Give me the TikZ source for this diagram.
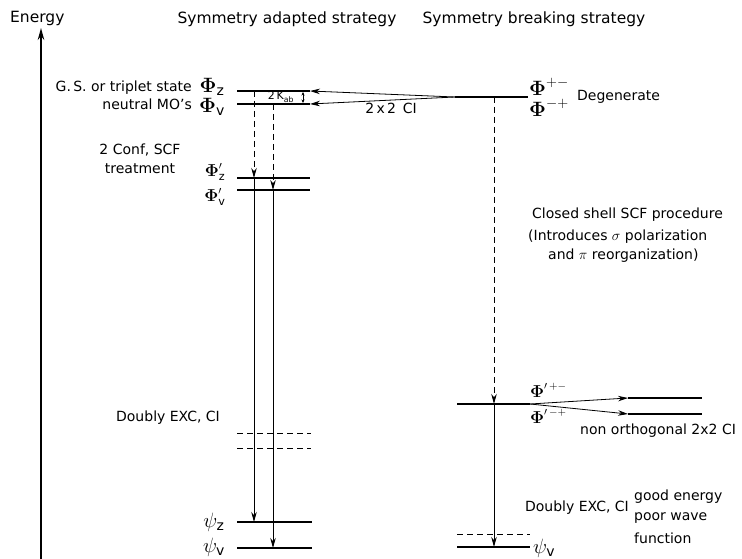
\documentclass[tikz,border=0pt]{standalone}
\usepackage{amsmath}
\usepackage{fontspec}
\setmainfont{DejaVu Sans}
\usetikzlibrary{arrows.meta}
\begin{document}
\begin{tikzpicture}[x=1pt,y=-1pt,
  lvl/.style={line width=1.7pt},
  dlvl/.style={line width=1pt,dash pattern=on 6pt off 4pt},
  arr/.style={line width=0.8pt,-{Stealth[length=10pt,width=5.5pt]}},
  darr/.style={arr,dash pattern=on 6pt off 4pt},
  axis/.style={line width=1.5pt,-{Stealth[length=12pt,width=6.5pt]}},
  txt/.style={inner sep=0pt,font=\fontsize{14}{17}\selectfont},
  head/.style={inner sep=0pt,font=\fontsize{15.5}{18}\selectfont},
  sym/.style={inner sep=0pt,font=\fontsize{20}{22}\selectfont},
  symp/.style={inner sep=0pt,font=\fontsize{16}{18}\selectfont},
  small/.style={inner sep=0pt,font=\fontsize{11}{13}\selectfont}]
\useasboundingbox (0,0) rectangle (742,559);

% energy axis
\coordinate (axB) at (41,559);
\coordinate (axT) at (41,28);
\draw[axis] (axB) -- (axT);
\node[head,anchor=west] (energy) at (10,18) {Energy};
\node[head] (hA) at (287,19) {Symmetry adapted strategy};
\node[head] (hB) at (534,19) {Symmetry breaking strategy};

% left levels
\coordinate (zL) at (237,91);   \coordinate (zR) at (310,91);
\coordinate (vL) at (237,104);  \coordinate (vR) at (310,104);
\coordinate (zpL) at (237,178); \coordinate (zpR) at (310,178);
\coordinate (vpL) at (237,190); \coordinate (vpR) at (310,190);
\coordinate (d1L) at (237,433); \coordinate (d1R) at (311,433);
\coordinate (d2L) at (237,448); \coordinate (d2R) at (311,448);
\coordinate (pzL) at (237,522); \coordinate (pzR) at (312,522);
\coordinate (pvL) at (237,548); \coordinate (pvR) at (312,548);
\draw[lvl] (zL) -- (zR);
\draw[lvl] (vL) -- (vR);
\draw[lvl] (zpL) -- (zpR);
\draw[lvl] (vpL) -- (vpR);
\draw[dlvl] (d1L) -- (d1R);
\draw[dlvl] (d2L) -- (d2R);
\draw[lvl] (pzL) -- (pzR);
\draw[lvl] (pvL) -- (pvR);

% left vertical arrows
\coordinate (za) at (254,91);  \coordinate (zb) at (254,178); \coordinate (zc) at (254,522);
\coordinate (va) at (273,104); \coordinate (vb) at (273,190); \coordinate (vc) at (273,548);
\draw[darr] (za) -- (zb);
\draw[darr] (va) -- (vb);
\draw[arr] (zb) -- (zc);
\draw[arr] (vb) -- (vc);

% 2 Kab splitting
\node[small] (kab) at (281,97) {2\,K\textsubscript{ab}};
\coordinate (kT) at (303,92);
\coordinate (kB) at (303,103);
\draw[line width=0.6pt,{Stealth[length=3.5pt,width=3pt]}-{Stealth[length=3.5pt,width=3pt]}] (kT) -- (kB);

% degenerate level and 2x2 CI
\coordinate (degL) at (455,97); \coordinate (degR) at (528,97);
\draw[lvl] (degL) -- (degR);
\draw[arr] (degL) -- (zR);
\draw[arr] (degL) -- (vR);
\node[txt] (ci) at (391,108) {2\,x\,2\, CI};

% right column
\coordinate (dega) at (494,97);
\coordinate (rpL) at (457,404); \coordinate (rpR) at (530,404);
\coordinate (rpa) at (494,404);
\coordinate (rdL) at (457,534); \coordinate (rdR) at (530,534);
\coordinate (rvL) at (457,547); \coordinate (rvR) at (530,547);
\coordinate (rva) at (494,547);
\draw[lvl] (rpL) -- (rpR);
\draw[dlvl] (rdL) -- (rdR);
\draw[lvl] (rvL) -- (rvR);
\draw[darr] (dega) -- (rpa);
\draw[arr] (rpa) -- (rva);

% non orthogonal split
\coordinate (s1L) at (628,398); \coordinate (s1R) at (702,398);
\coordinate (s2L) at (628,414); \coordinate (s2R) at (702,414);
\draw[lvl] (s1L) -- (s1R);
\draw[lvl] (s2L) -- (s2R);
\draw[arr] (rpR) -- (s1L);
\draw[arr] (rpR) -- (s2L);

% left labels
\node[txt,anchor=east] (gs) at (192,88) {G.\,S. or triplet state};
\node[txt,anchor=east] (nmo) at (192,104) {neutral MO's};
\node[sym] (phz) at (212,87) {$\boldsymbol{\Phi}_{\text{z}}$};
\node[sym] (phv) at (212,107) {$\boldsymbol{\Phi}_{\text{v}}$};
\node[txt,align=center,font=\fontsize{14}{19}\selectfont] (conf) at (140,159) {2 Conf, SCF\\treatment};
\node[symp] (phzp) at (215,172) {$\boldsymbol{\Phi}'_{\text{z}}$};
\node[symp] (phvp) at (215,197) {$\boldsymbol{\Phi}'_{\text{v}}$};
\node[txt] (dexl) at (168,418) {Doubly EXC, CI};
\node[sym] (psz) at (214,522) {$\psi_{\text{z}}$};
\node[sym] (psv) at (214,547) {$\psi_{\text{v}}$};

% right labels
\node[sym,anchor=west] (ppm) at (529,87) {$\boldsymbol{\Phi}^{+-}$};
\node[sym,anchor=west] (pmp) at (529,108) {$\boldsymbol{\Phi}^{-+}$};
\node[txt,anchor=west] (degen) at (577,97) {Degenerate};
\node[txt,anchor=west] (cs1) at (532,215) {Closed shell SCF procedure};
\node[txt,anchor=west] (cs2) at (528,237) {(Introduces $\sigma$ polarization};
\node[txt,anchor=west] (cs3) at (548,256) {and $\pi$ reorganization)};
\node[symp,anchor=west] (pppm) at (530,390) {$\boldsymbol{\Phi}'^{\,+-}$};
\node[symp,anchor=west] (ppmp) at (530,416) {$\boldsymbol{\Phi}'^{\,-+}$};
\node[txt,anchor=west] (nonorth) at (580,431) {non orthogonal 2x2 CI};
\node[txt,anchor=east] (dexr) at (629,508) {Doubly EXC, CI};
\node[txt,anchor=west] (ge1) at (634,497) {good energy};
\node[txt,anchor=west] (ge2) at (634,518) {poor wave};
\node[txt,anchor=west] (ge3) at (634,538) {function};
\node[sym,anchor=west] (rpsv) at (533,548) {$\psi_{\text{v}}$};
\end{tikzpicture}
\end{document}
